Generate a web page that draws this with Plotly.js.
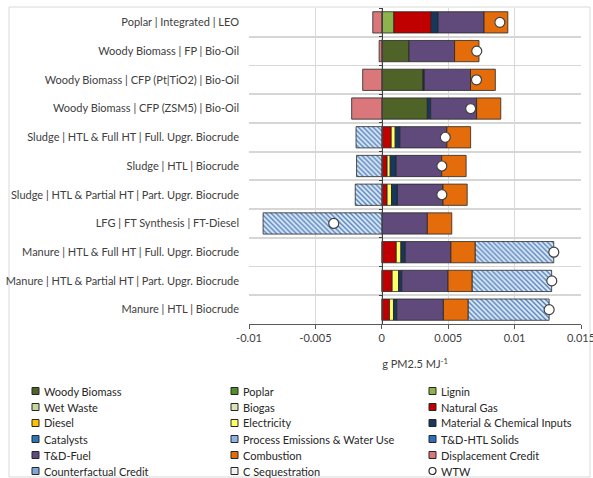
<!DOCTYPE html>
<html>
<head>
<meta charset="utf-8">
<script src="https://cdn.plot.ly/plotly-3.0.1.min.js"></script>
<style>html,body{margin:0;padding:0;background:#fff;}#chart{width:593px;height:478px;}</style>
</head>
<body>
<div id="chart"></div>
<script>
// ---- categories (top to bottom) ----
const categories = [
  "Poplar | Integrated | LEO",
  "Woody Biomass | FP | Bio-Oil",
  "Woody Biomass | CFP (Pt|TiO2) | Bio-Oil",
  "Woody Biomass | CFP (ZSM5) | Bio-Oil",
  "Sludge | HTL & Full HT | Full. Upgr. Biocrude",
  "Sludge | HTL | Biocrude",
  "Sludge | HTL & Partial HT | Part. Upgr. Biocrude",
  "LFG | FT Synthesis | FT-Diesel",
  "Manure | HTL & Full HT | Full. Upgr. Biocrude",
  "Manure | HTL & Partial HT | Part. Upgr. Biocrude",
  "Manure | HTL | Biocrude"
];

// ---- series values (g PM2.5 / MJ) ----
const woodyBiomass   = [0, 0.00205, 0.0031, 0.00343, 0, 0, 0, 0, 0, 0, 0];
const poplar         = [0, 0, 0, 0, 0, 0, 0, 0, 0, 0, 0];
const lignin         = [0.00091, 0, 0, 0, 0, 0, 0, 0, 0, 0, 0];
const wetWaste       = [0, 0, 0, 0, 0, 0, 0, 0, 0, 0, 0];
const biogas         = [0, 0, 0, 0, 0, 0, 0, 0, 0, 0, 0];
const naturalGas     = [0.0028, 0, 0, 0, 0.00071, 0.0004, 0.0004, 0, 0.00109, 0.00078, 0.00058];
const diesel         = [0, 0, 0, 0, 0, 0, 0, 0, 0, 0, 0];
const electricity    = [0, 0, 0, 0, 0.0003, 0.00023, 0.00033, 0, 0.00035, 0.00048, 0.0003];
const materialChem   = [0.00053, 0, 0.0001, 0.00025, 0.00035, 0.00045, 0.00045, 0, 0.00033, 0.00025, 0.00025];
const catalysts      = [0, 0, 0, 0, 0, 0, 0, 0, 0, 0, 0];
const processEmis    = [0, 0, 0, 0, 0, 0, 0, 0, 0, 0, 0];
const tdHtlSolids    = [0, 0, 0, 0, 0, 0, 0, 0, 0, 0, 0];
const tdFuel         = [0.00346, 0.00343, 0.00348, 0.00346, 0.00354, 0.00343, 0.00343, 0.00343, 0.00343, 0.00348, 0.00351];
const combustion     = [0.00179, 0.00184, 0.00187, 0.00182, 0.00179, 0.00184, 0.00182, 0.00184, 0.00184, 0.00182, 0.00187];
const displacement   = [-0.00068, -0.0002, -0.00144, -0.00227, 0, 0, 0, 0, 0, 0, 0];
const counterfactual = [0, 0, 0, 0, -0.00194, -0.0019, -0.002, -0.00894, 0.00591, 0.00598, 0.00609];
const cSequestration = [0, 0, 0, 0, 0, 0, 0, 0, 0, 0, 0];
const wtw            = [0.00889, 0.00715, 0.00713, 0.00669, 0.00478, 0.00452, 0.00452, -0.00362, 0.01295, 0.0128, 0.0126];

// ---- x tick labels ----
const xTickVals  = [-0.01, -0.005, 0, 0.005, 0.01, 0.015];
const xTickText  = ["-0.01", "-0.005", "0", "0.005", "0.01", "0.015"];

const FONT = "Lato, 'Open Sans', sans-serif";
const OUTLINE = "#262626";

const series = [
  {name: "Woody Biomass", values: woodyBiomass, color: "#4F6228"},
  {name: "Poplar", values: poplar, color: "#4E8F2A"},
  {name: "Lignin", values: lignin, color: "#8DB34C"},
  {name: "Wet Waste", values: wetWaste, color: "#C4D79B"},
  {name: "Biogas", values: biogas, color: "#D8E4BC"},
  {name: "Natural Gas", values: naturalGas, color: "#C00000"},
  {name: "Diesel", values: diesel, color: "#FFC000"},
  {name: "Electricity", values: electricity, color: "#FFFF66"},
  {name: "Material & Chemical Inputs", values: materialChem, color: "#17375E"},
  {name: "Catalysts", values: catalysts, color: "#2E75B6"},
  {name: "Process Emissions & Water Use", values: processEmis, color: "#8EB4E3"},
  {name: "T&D-HTL Solids", values: tdHtlSolids, color: "#2F6EBA"},
  {name: "T&D-Fuel", values: tdFuel, color: "#604A7B"},
  {name: "Combustion", values: combustion, color: "#E46C0A"},
  {name: "Displacement Credit", values: displacement, color: "#D9777A"},
  {name: "Counterfactual Credit", values: counterfactual, color: "#DDE8F5", pattern: true},
  {name: "C Sequestration", values: cSequestration, color: "#F2F2F2"}
];

const traces = series.map(s => {
  const marker = {color: s.color, line: {color: OUTLINE, width: 0.8}};
  if (s.pattern) {
    marker.pattern = {shape: "\\", fgcolor: "#4F81BD", bgcolor: "#DDE8F5", size: 3.5, solidity: 0.4};
  }
  return {
    type: "bar", orientation: "h", name: s.name,
    y: categories, x: s.values.map(v => v === 0 ? null : v),
    marker: marker, showlegend: false, hoverinfo: "x+name"
  };
});

traces.push({
  type: "scatter", mode: "markers", name: "WTW",
  y: categories, x: wtw, yaxis: "y2",
  marker: {symbol: "circle", size: 10, color: "#FFFFFF", line: {color: "#404040", width: 1.2}},
  showlegend: false, cliponaxis: false
});

// ---- geometry helpers (pixel -> paper) ----
const W = 593, H = 478, ML = 249, MR = 12, MT = 8, MB = 154;
const PW = W - ML - MR, PH = H - MT - MB;
const px2x = px => (px - ML) / PW;
const px2y = py => (H - MB - py) / PH;

// ---- manual legend (3 columns, row-major) ----
const legendEntries = series.map(s => ({name: s.name, color: s.color, pattern: !!s.pattern}))
  .concat([{name: "WTW", circle: true}]);
const colX = [32, 231, 429];
const rowY0 = 391, rowStep = 16;
const shapes = [];
const annotations = [];

// outer frame
shapes.push({type: "rect", xref: "paper", yref: "paper",
  x0: px2x(9), x1: px2x(590), y0: px2y(477), y1: px2y(7),
  line: {color: "#D9D9D9", width: 1}, fillcolor: "rgba(0,0,0,0)", layer: "below"});

legendEntries.forEach((e, i) => {
  const c = i % 3, r = Math.floor(i / 3);
  const cx = colX[c], cy = rowY0 + r * rowStep;
  if (e.circle) {
    shapes.push({type: "circle", xref: "paper", yref: "paper",
      x0: px2x(cx), x1: px2x(cx + 7), y0: px2y(cy + 3.5), y1: px2y(cy - 3.5),
      line: {color: "#262626", width: 1.2}, fillcolor: "#FFFFFF"});
  } else {
    shapes.push({type: "rect", xref: "paper", yref: "paper",
      x0: px2x(cx), x1: px2x(cx + 7), y0: px2y(cy + 3.5), y1: px2y(cy - 3.5),
      line: {color: "#262626", width: 1}, fillcolor: e.pattern ? "#7FA6D6" : e.color});
  }
  annotations.push({xref: "paper", yref: "paper", x: px2x(cx + 9.5), y: px2y(cy),
    xanchor: "left", yanchor: "middle", showarrow: false, text: e.name,
    font: {family: FONT, size: 11, color: "#262626"}});
});

const layout = {
  width: W, height: H,
  margin: {l: ML, r: MR, t: MT, b: MB, pad: 0},
  paper_bgcolor: "#FFFFFF", plot_bgcolor: "#FFFFFF",
  barmode: "relative", bargap: 0.26,
  showlegend: false,
  font: {family: FONT, size: 11, color: "#404040"},
  xaxis: {
    range: [-0.01, 0.015], tickvals: xTickVals, ticktext: xTickText,
    showgrid: true, gridcolor: "#D9D9D9", gridwidth: 1,
    zeroline: false, showline: true, linecolor: "#595959", linewidth: 1,
    ticks: "outside", ticklen: 4, tickcolor: "#595959", ticklabeloverflow: "allow",
    tickfont: {family: FONT, size: 11, color: "#404040"},
    title: {text: "g PM2.5 MJ<sup>-1</sup>", font: {family: FONT, size: 11, color: "#404040"}, standoff: 17}
  },
  yaxis: {
    type: "category", categoryorder: "array", categoryarray: categories,
    range: [10.5, -0.5], tickson: "boundaries",
    showgrid: true, gridcolor: "#D6D6D6", gridwidth: 1.8,
    showline: false, ticks: "", ticklabelstandoff: 9,
    tickfont: {family: FONT, size: 11, color: "#404040"}
  },
  yaxis2: {
    type: "category", categoryorder: "array", categoryarray: categories,
    range: [10.5, -0.5], overlaying: "y", anchor: "free", position: px2x(382),
    side: "left", tickson: "boundaries", showgrid: false,
    showline: true, linecolor: "#404040", linewidth: 1,
    ticks: "outside", ticklen: 3, tickcolor: "#404040", showticklabels: false
  },
  shapes: shapes,
  annotations: annotations
};

Plotly.newPlot("chart", traces, layout, {displayModeBar: false, staticPlot: true});
</script>
</body>
</html>
